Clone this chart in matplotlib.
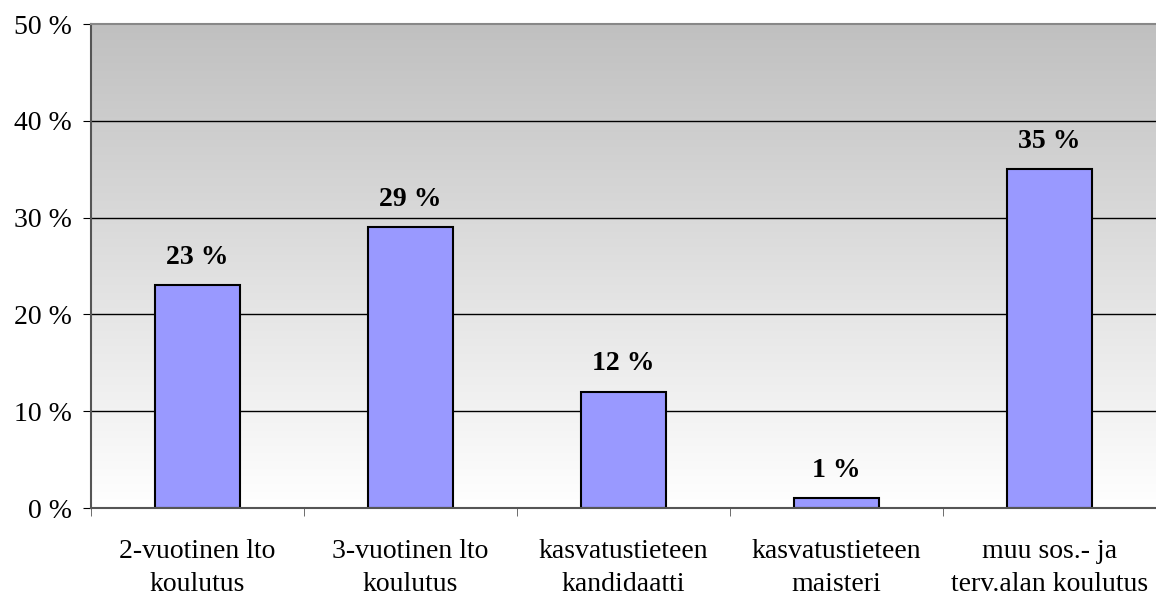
import numpy as np
import matplotlib.pyplot as plt
from matplotlib.colors import LinearSegmentedColormap

categories = ["2-vuotinen lto\nkoulutus", "3-vuotinen lto\nkoulutus",
              "kasvatustieteen\nkandidaatti", "kasvatustieteen\nmaisteri",
              "muu sos.- ja\nterv.alan koulutus"]
values = [23, 29, 12, 1, 35]
yticks = [0, 10, 20, 30, 40, 50]

plt.rcParams['font.family'] = ['Liberation Serif', 'DejaVu Serif']

fig = plt.figure(figsize=(11.56, 5.97), dpi=100)
ax = fig.add_axes([91/1156, 1 - 508/597, (1156 - 91)/1156, (508 - 24)/597])

x = np.arange(len(values))
ax.set_xlim(-0.5, len(values) - 0.5)
ax.set_ylim(0, 50)

# gradient background, grey at top fading to white
cmap = LinearSegmentedColormap.from_list("bg", ["#ffffff", "#c0c0c0"])
grad = np.linspace(0, 1, 256).reshape(-1, 1)
ax.imshow(grad, aspect="auto", cmap=cmap, origin="lower",
		  extent=(-0.5, len(values) - 0.5, 0, 50), zorder=0)

for t in yticks[1:-1]:
	ax.axhline(t, color="black", lw=1, zorder=1)

bars = ax.bar(x, values, width=0.4, color="#9999ff", edgecolor="black", lw=1.5, zorder=2)
for b, v in zip(bars, values):
	ax.text(b.get_x() + b.get_width() / 2, v + 1.6, f"{v} %", ha="center", va="bottom",
			fontsize=20, fontweight="bold")

ax.set_yticks(yticks)
ax.set_yticklabels([f"{t} %" for t in yticks], fontsize=20)
ax.set_xticks(x)
ax.set_xticklabels(categories, fontsize=20, linespacing=1.45)
ax.set_xticks(np.arange(len(values) + 1) - 0.5, minor=True)
ax.tick_params(axis="x", which="major", length=0, pad=22)
ax.tick_params(axis="x", which="minor", length=6, color="#555555", direction="out")
ax.tick_params(axis="y", length=6, color="black", direction="out", pad=8)

ax.spines["right"].set_visible(False)
ax.spines["top"].set_color("#888888")
ax.spines["top"].set_linewidth(1.5)
ax.spines["left"].set_color("#555555")
ax.spines["left"].set_linewidth(1.5)
ax.spines["bottom"].set_color("#555555")
ax.spines["bottom"].set_linewidth(1.5)

fig.savefig("out.png", dpi=100)
